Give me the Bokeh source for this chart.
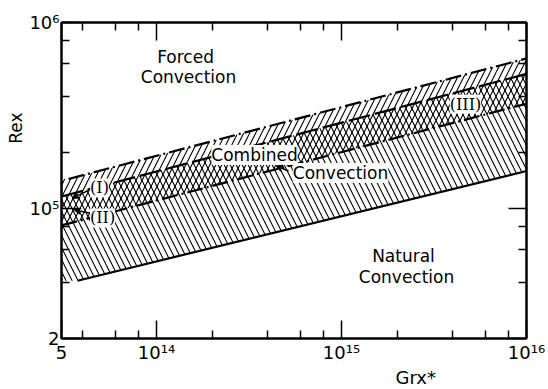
from bokeh.plotting import figure
from bokeh.models import LogAxis, FixedTicker, Label, Arrow, VeeHead, Range1d, Title
from bokeh.embed import file_html
from bokeh.resources import INLINE

# Regime boundaries: modified Grashof number Gr_x* against Reynolds number Re_x
line_a_gr = [3.345e13, 1.0e16]   # upper limit of combined convection (dash-dot)
line_a_re = [1.441e5, 6.41e5]
line_b_gr = [3.065e13, 1.0e16]   # criterion (I) (dashed)
line_b_re = [1.160e5, 5.29e5]
line_c_gr = [3.065e13, 1.0e16]   # criterion (II)/(III) (dash-dot)
line_c_re = [8.11e4, 3.66e5]
line_d_gr = [3.742e13, 1.0e16]   # lower limit of combined convection (solid)
line_d_re = [4.09e4, 1.59e5]

gr_edge = 3.065e13

# Axis ticks
x_major = [3.065e13, 1e14, 1e15, 1e16]
x_major_labels = ["5", "10\u00b9\u2074", "10\u00b9\u2075", "10\u00b9\u2076"]
x_minor = [4e13, 6e13, 8e13, 2e14, 4e14, 6e14, 8e14, 2e15, 4e15, 6e15, 8e15]
y_major = [2e4, 1e5, 1e6]
y_major_labels = ["2", "10\u2075", "10\u2076"]
y_minor = [4e4, 6e4, 8e4, 2e5, 4e5, 6e5, 8e5]

FONT = "DejaVu Sans"
SERIF = "DejaVu Serif"

p = figure(width=548, height=389, x_axis_type="log", y_axis_type="log",
           x_range=Range1d(gr_edge, 1e16), y_range=Range1d(2e4, 1e6),
           output_backend="svg", toolbar_location=None,
           min_border_left=61, min_border_right=22,
           min_border_top=22, min_border_bottom=51)
p.xgrid.visible = False
p.ygrid.visible = False
p.outline_line_color = "black"
p.outline_line_width = 2
p.background_fill_color = "white"
p.border_fill_color = "white"

x_ticker = FixedTicker(ticks=x_major, minor_ticks=x_minor)
y_ticker = FixedTicker(ticks=y_major, minor_ticks=y_minor)


def style_axis(ax, show_labels):
    ax.axis_line_width = 2
    ax.axis_line_color = "black"
    ax.major_tick_in = 18
    ax.major_tick_out = 0
    ax.minor_tick_in = 8
    ax.minor_tick_out = 0
    ax.major_tick_line_width = 1.5
    ax.minor_tick_line_width = 1.5
    ax.major_tick_line_color = "black"
    ax.minor_tick_line_color = "black"
    if show_labels:
        ax.major_label_text_font = FONT
        ax.major_label_text_font_size = "18px"
        ax.major_label_text_color = "black"
    else:
        ax.major_label_text_font_size = "1px"
        ax.major_label_text_color = None
        ax.major_label_standoff = 0


bottom = p.below[0]
bottom.ticker = x_ticker
bottom.major_label_overrides = dict(zip(x_major, x_major_labels))
bottom.major_label_standoff = 3
style_axis(bottom, True)

left = p.left[0]
left.ticker = y_ticker
left.major_label_overrides = dict(zip(y_major, y_major_labels))
left.major_label_standoff = 2
style_axis(left, True)

top = LogAxis(ticker=x_ticker)
style_axis(top, False)
p.add_layout(top, "above")
right = LogAxis(ticker=y_ticker)
style_axis(right, False)
p.add_layout(right, "right")

# Axis titles, placed along their axes
p.add_layout(Title(text="Rex", align="right", offset=90, vertical_align="bottom",
                   standoff=2, text_font=FONT, text_font_size="17px",
                   text_font_style="normal", text_color="black"), "left")
p.add_layout(Title(text="Grx*", align="left", offset=334, vertical_align="middle",
                   standoff=0, text_font=FONT, text_font_size="18px",
                   text_font_style="normal", text_color="black"), "below")

# Hatched bands: "/" between the upper limit and criterion (II),
# "\" between criterion (I) and the lower limit; the overlap cross-hatches.
slash_x = [gr_edge] + line_a_gr + line_c_gr[::-1]
slash_y = [line_a_re[0]] + line_a_re + line_c_re[::-1]
back_x = line_b_gr + line_d_gr[::-1] + [gr_edge]
back_y = line_b_re + line_d_re[::-1] + [line_d_re[0]]

p.patch(slash_x, slash_y, fill_alpha=0, line_color=None,
        hatch_pattern="/", hatch_color="black", hatch_scale=12, hatch_weight=1.1)
p.patch(back_x, back_y, fill_alpha=0, line_color=None,
        hatch_pattern="\\", hatch_color="black", hatch_scale=12, hatch_weight=1.1)

p.line(line_a_gr, line_a_re, line_color="black", line_width=2.2, line_dash="16 4 2 4")
p.line(line_b_gr, line_b_re, line_color="black", line_width=2.2, line_dash="22 5")
p.line(line_c_gr, line_c_re, line_color="black", line_width=2.2, line_dash="16 4 2 4")
p.line(line_d_gr, line_d_re, line_color="black", line_width=2.2)


def add_text(x, y, text, size="17px", font=FONT, bg=None):
    lbl = Label(x=x, y=y, text=text, text_font=font,
                text_font_size=size, text_color="black",
                text_align="center", text_baseline="middle")
    if bg:
        lbl.background_fill_color = bg
    p.add_layout(lbl)


add_text(1.435e14, 6.49e5, "Forced")
add_text(1.489e14, 5.07e5, "Convection")
add_text(3.386e14, 1.937e5, "Combined", bg="white")
add_text(9.88e14, 1.552e5, "Convection", bg="white")
add_text(2.163e15, 5.57e4, "Natural")
add_text(2.246e15, 4.30e4, "Convection")

add_text(4.92e13, 1.29e5, "(I)", size="16px", font=SERIF, bg="white")
add_text(5.11e13, 8.9e4, "(II)", size="16px", font=SERIF, bg="white")
add_text(4.68e15, 3.64e5, "(III)", size="16px", font=SERIF, bg="white")

for xs, ys, xe, ye in [(4.24e13, 1.243e5, 3.515e13, 1.14e5),
                       (4.34e13, 9.47e4, 3.604e13, 9.83e4),
                       (5.17e14, 1.59e5, 4.45e14, 1.692e5)]:
    p.add_layout(Arrow(x_start=xs, y_start=ys, x_end=xe, y_end=ye,
                       line_width=1.5, line_color="black",
                       end=VeeHead(size=6, line_width=1.5, line_color="black",
                                   fill_color="black")))

open("out.html", "w").write(file_html(p, INLINE))
